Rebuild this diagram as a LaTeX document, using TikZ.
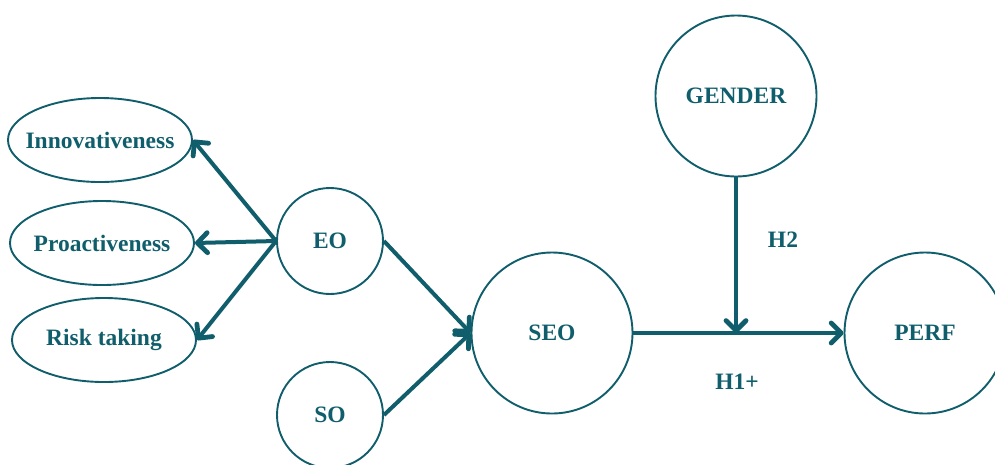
\documentclass[tikz,border=0pt]{standalone}
\usepackage{fontspec}
\setmainfont{Liberation Serif}
\usetikzlibrary{arrows.meta,shapes.geometric}
\definecolor{figT}{RGB}{16,94,108}

\begin{document}
\begin{tikzpicture}[x=1pt,y=-1pt,>={Straight Barb[length=10pt,width=20pt,line width=0pt 1.2,round]},
  lbl/.style={text=figT,font=\fontsize{23.5}{27}\selectfont\bfseries},
  oval/.style={lbl,ellipse,draw=figT,line width=1.9pt,minimum width=184pt,minimum height=84pt,inner xsep=-30pt,inner ysep=0pt},
  small/.style={lbl,circle,draw=figT,line width=1.9pt,minimum size=106pt,inner sep=0pt},
  big/.style={lbl,circle,draw=figT,line width=1.9pt,minimum size=161pt,inner sep=0pt},
  path/.style={->,draw=figT,line width=4pt}]
\useasboundingbox (0,0) rectangle (995,464);
\node[oval] (Inno) at (100,140) {Innovativeness};
\node[oval] (Pro) at (102,243) {Proactiveness};
\node[oval] (Risk) at (104,340) {Risk taking};
\node[small] (EO) at (330,241) {EO};
\node[small] (SO) at (330,415) {SO};
\node[big] (SEO) at (552,333) {SEO};
\node[big] (GEN) at (736,96) {GENDER};
\node[big] (PERF) at (925,333) {PERF};
\coordinate (mod) at (GEN.south |- SEO.east);
\draw[path] (EO.west)--(Inno.east);
\draw[path] (EO.west)--(Pro.east);
\draw[path] (EO.west)--(Risk.east);
\draw[path] (EO.east)--(SEO.west);
\draw[path] (SO.east)--(SEO.west);
\draw[path] (SEO.east)--(PERF.west);
\draw[path] (GEN.south)--(mod);
\node[lbl] (h2) at (783,240) {H2};
\node[lbl] (h1) at (737,382) {H1+};
\end{tikzpicture}
\end{document}
